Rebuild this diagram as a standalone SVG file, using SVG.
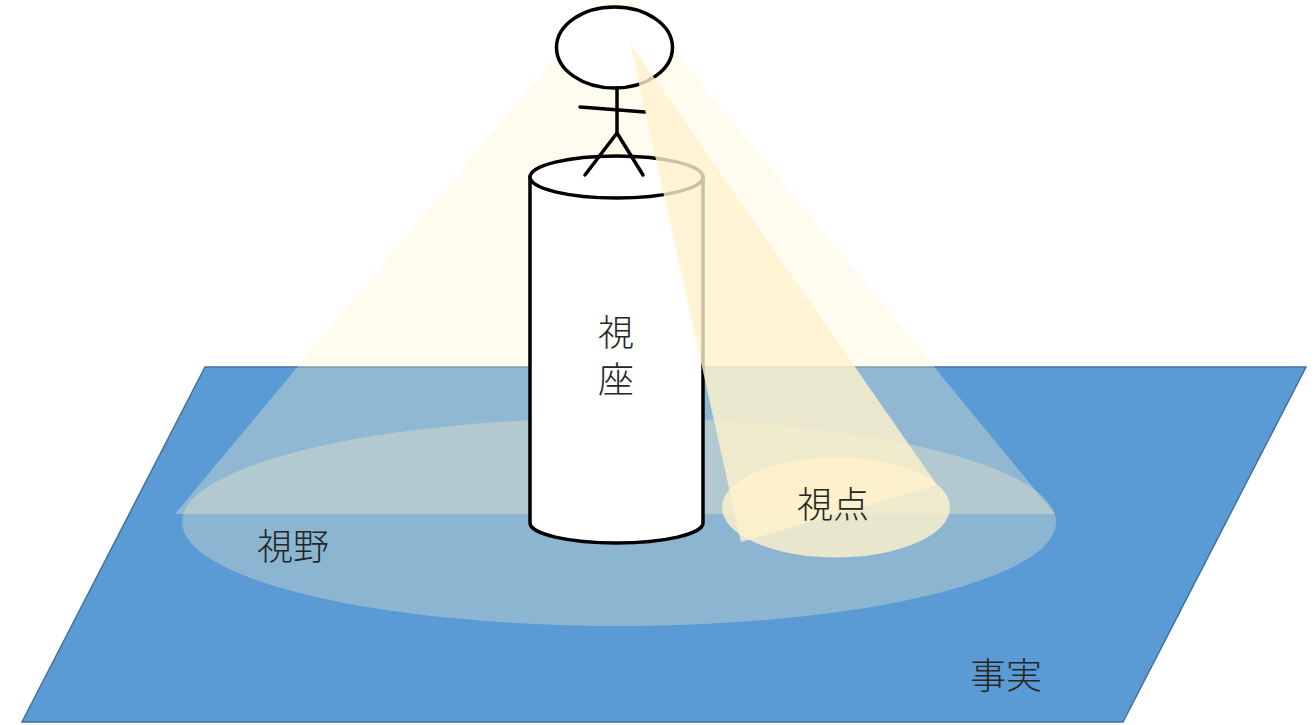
<svg xmlns="http://www.w3.org/2000/svg" width="1314" height="725" viewBox="0 0 1314 725">
  <style>
    .ink { fill: none; stroke: #000; stroke-width: 3.5; stroke-linecap: round; stroke-linejoin: round; }
    .light { fill: #FFF2CC; }
    .label { font-family: "Noto Sans CJK JP", "Noto Sans", sans-serif; font-size: 36px; font-weight: 300; fill: #262626; text-anchor: middle; dominant-baseline: central; }
  </style>
  <rect width="1314" height="725" fill="#FFFFFF"/>

  <!-- ground plane: 事実 -->
  <g id="fact">
    <polygon points="205,367 1306,367 1123,722 22,722" fill="#5B9BD5" stroke="#41719C" stroke-width="1.5"/>
  </g>

  <!-- field of view on the ground -->
  <g id="field-of-view">
    <ellipse cx="619" cy="522" rx="437" ry="104" class="light" opacity="0.3"/>
  </g>

  <!-- focus spot on the ground -->
  <g id="viewpoint-spot">
    <ellipse cx="836" cy="507.5" rx="114" ry="50" class="light" opacity="0.8"/>
  </g>

  <!-- wide light cone -->
  <g id="view-cone">
    <polygon points="618,-18 1055,514 175,514" class="light" opacity="0.33"/>
  </g>

  <!-- pedestal cylinder: 視座 -->
  <g id="pedestal">
    <path d="M530,177 L530,523 A86.5,20 0 0 0 703,523 L703,177 Z" fill="#FFFFFF"/>
    <path d="M530,177 L530,523 A86.5,20 0 0 0 703,523 L703,177" class="ink"/>
    <ellipse cx="616.5" cy="177" rx="86.5" ry="21" class="ink" style="fill:#FFFFFF"/>
  </g>

  <!-- stick figure -->
  <g id="observer">
    <ellipse cx="614.5" cy="47.5" rx="58" ry="40.5" class="ink" style="fill:#FFFFFF"/>
    <line x1="617" y1="88" x2="617" y2="133" class="ink"/>
    <line x1="580" y1="107" x2="645" y2="112" class="ink"/>
    <polyline points="585,175 617,133 643,175" class="ink"/>
  </g>

  <!-- narrow light cone -->
  <g id="focus-cone">
    <polygon points="630,43 937,485 741,542" class="light" opacity="0.8"/>
  </g>

  <!-- labels -->
  <g id="labels">
    <text class="label" x="616" y="330">視</text>
    <text class="label" x="616" y="377">座</text>
    <text class="label" x="293" y="544">視野</text>
    <text class="label" x="833" y="502">視点</text>
    <text class="label" x="1006" y="673">事実</text>
  </g>
</svg>
